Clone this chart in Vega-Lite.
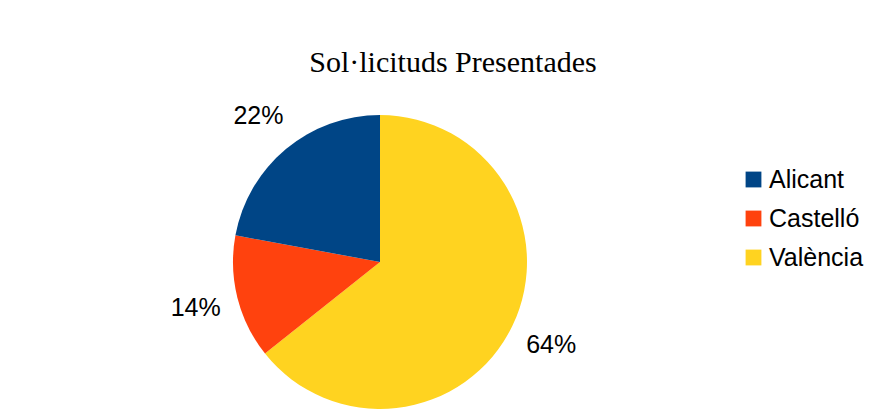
{
  "$schema": "https://vega.github.io/schema/vega-lite/v6.json",
  "autosize": "none",
  "width": 294,
  "height": 294,
  "padding": {"left": 233, "top": 115, "right": 356, "bottom": 1},
  "background": "white",
  "title": {
    "text": "Sol·licituds Presentades",
    "font": "Liberation Serif",
    "fontSize": 30,
    "fontWeight": "normal",
    "color": "#000000",
    "anchor": "middle",
    "frame": "group",
    "dx": 73,
    "offset": 26
  },
  "data": {
    "values": [
      {"region": "València", "value": 64.3, "label": "64%"},
      {"region": "Castelló", "value": 13.6, "label": "14%"},
      {"region": "Alicant", "value": 22.1, "label": "22%"}
    ]
  },
  "encoding": {
    "theta": {"field": "value", "type": "quantitative", "stack": true},
    "order": {"field": "region", "sort": "descending"}
  },
  "layer": [
    {
      "mark": {"type": "arc", "radius": 147, "stroke": null},
      "encoding": {
        "color": {
          "field": "region",
          "type": "nominal",
          "scale": {
            "domain": ["Alicant", "Castelló", "València"],
            "range": ["#004586", "#ff420e", "#ffd320"]
          },
          "legend": {
            "title": null,
            "orient": "none",
            "legendX": 508,
            "legendY": 52,
            "padding": 0,
            "symbolType": "square",
            "symbolSize": 250,
            "symbolStrokeWidth": 0,
            "symbolOpacity": 1,
            "labelFont": "Liberation Sans",
            "labelFontSize": 25,
            "labelColor": "#000000",
            "labelOffset": 3,
            "rowPadding": 13,
            "labelLimit": 0
          }
        }
      }
    },
    {
      "mark": {
        "type": "text",
        "radius": 190,
        "font": "Liberation Sans",
        "fontSize": 25,
        "color": "#000000",
        "align": "center",
        "baseline": "middle"
      },
      "encoding": {"text": {"field": "label", "type": "nominal"}}
    }
  ],
  "config": {"view": {"stroke": null}}
}
